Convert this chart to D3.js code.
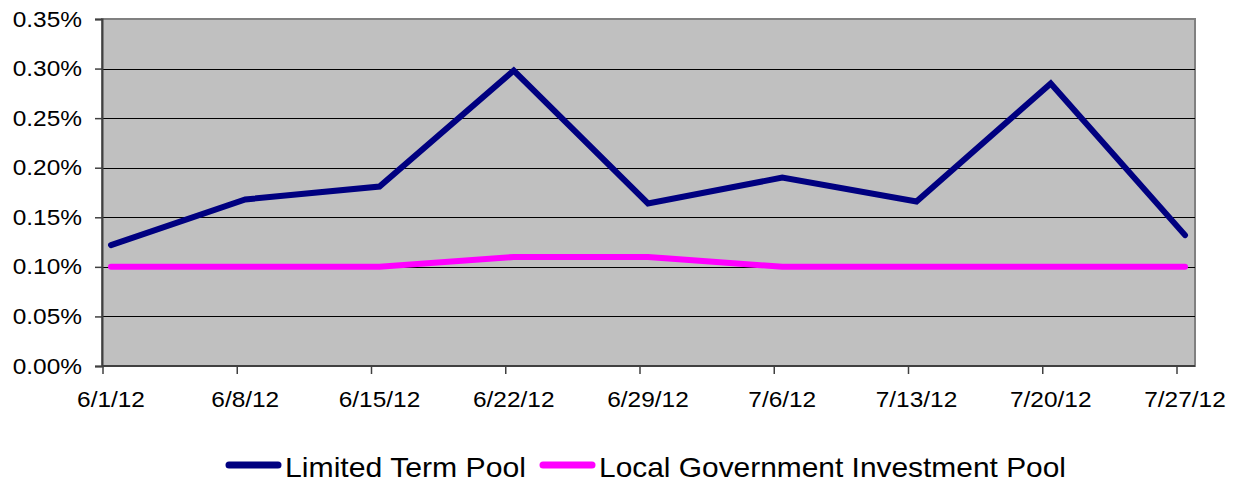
<!DOCTYPE html>
<html>
  <head>
    <meta charset="utf-8" />
    <script src="https://cdn.jsdelivr.net/npm/d3@7/dist/d3.min.js"></script>
    <style>
      body { margin: 0; background: #fff; }
      text { font-family: 'Liberation Sans', Arial, sans-serif; fill: #000; }
    </style>
  </head>
  <body>
    <svg id="chart" width="1238" height="489"></svg>
    <script>
      // data (percent)
      var dates = ['6/1/12', '6/8/12', '6/15/12', '6/22/12', '6/29/12', '7/6/12', '7/13/12', '7/20/12', '7/27/12'];
      var limitedTerm = [0.122, 0.168, 0.181, 0.298, 0.164, 0.190, 0.166, 0.285, 0.132];
      var localGov = [0.10, 0.10, 0.10, 0.11, 0.11, 0.10, 0.10, 0.10, 0.10];
      var yTicks = [0, 0.05, 0.1, 0.15, 0.2, 0.25, 0.3, 0.35];
      var seriesNames = ['Limited Term Pool', 'Local Government Investment Pool'];
      var seriesColors = ['#000080', '#ff00ff'];

      var svg = d3.select('#chart');

      // plot area edges
      var pLeft = 102, pRight = 1195, pTop = 19, pBottom = 366;

      var x = d3.scalePoint().domain(dates).range([111, 1185]);
      var y = d3.scaleLinear().domain([0, 0.35]).range([pBottom, pTop]);

      // plot background
      svg.append('rect')
        .attr('x', pLeft).attr('y', pTop)
        .attr('width', pRight - pLeft).attr('height', pBottom - pTop)
        .attr('fill', '#c0c0c0')
        .attr('stroke', '#808080')
        .attr('stroke-width', 2);

      // gridlines
      svg.append('g')
        .selectAll('line')
        .data(yTicks.slice(1, -1))
        .join('line')
        .attr('x1', pLeft).attr('x2', pRight)
        .attr('y1', function(d) { return Math.round(y(d)) + 0.5; })
        .attr('y2', function(d) { return Math.round(y(d)) + 0.5; })
        .attr('stroke', '#000')
        .attr('stroke-width', 1);

      // y axis
      var yaxis = d3.axisLeft(y)
        .tickValues(yTicks)
        .tickSize(7)
        .tickPadding(13)
        .tickFormat(function(d) { return d3.format('.2f')(d) + '%'; });
      var gy = svg.append('g')
        .attr('transform', 'translate(' + pLeft + ',0)')
        .call(yaxis);
      gy.select('.domain').attr('stroke', '#404040').attr('stroke-width', 2);
      gy.selectAll('.tick line').attr('stroke', '#404040').attr('stroke-width', 1.5);
      gy.selectAll('.tick text').style('font-size', '22px').style('font-family', "'Liberation Sans', Arial, sans-serif");

      // x axis, ticks sit a bit left of the points
      var gx = svg.append('g').attr('transform', 'translate(0,' + pBottom + ')');
      gx.append('line')
        .attr('x1', pLeft).attr('x2', pRight)
        .attr('stroke', '#404040').attr('stroke-width', 2);
      gx.selectAll('.tk')
        .data(dates)
        .join('line')
        .attr('class', 'tk')
        .attr('x1', function(d) { return x(d) - 8; })
        .attr('x2', function(d) { return x(d) - 8; })
        .attr('y1', 0).attr('y2', 8)
        .attr('stroke', '#404040').attr('stroke-width', 1.5);
      gx.selectAll('.lbl')
        .data(dates)
        .join('text')
        .attr('class', 'lbl')
        .attr('x', function(d) { return x(d); })
        .attr('y', 41)
        .attr('text-anchor', 'middle')
        .style('font-size', '22px')
        .text(function(d) { return d; });

      // widen axis labels a little, like the original
      svg.selectAll('.tick text, .lbl').each(function() {
        var w = this.getComputedTextLength();
        d3.select(this).attr('textLength', w * 1.11).attr('lengthAdjust', 'spacingAndGlyphs');
      });

      // lines
      var line = d3.line()
        .x(function(d, i) { return x(dates[i]); })
        .y(function(d) { return y(d); });

      [localGov, limitedTerm].forEach(function(vals, k) {
        svg.append('path')
          .attr('d', line(vals))
          .attr('fill', 'none')
          .attr('stroke', k == 0 ? seriesColors[1] : seriesColors[0])
          .attr('stroke-width', 6)
          .attr('stroke-linecap', 'round')
          .attr('stroke-linejoin', 'miter');
      });

      // legend
      var legX = [229, 543];
      var legW = [241, 467];
      seriesNames.forEach(function(name, i) {
        svg.append('line')
          .attr('x1', legX[i]).attr('x2', legX[i] + 49)
          .attr('y1', 465).attr('y2', 465)
          .attr('stroke', seriesColors[i])
          .attr('stroke-width', 7)
          .attr('stroke-linecap', 'round');
        svg.append('text')
          .attr('x', legX[i] + 56)
          .attr('y', 477)
          .style('font-size', '28px')
          .attr('textLength', legW[i])
          .attr('lengthAdjust', 'spacingAndGlyphs')
          .text(name);
      });
    </script>
  </body>
</html>
